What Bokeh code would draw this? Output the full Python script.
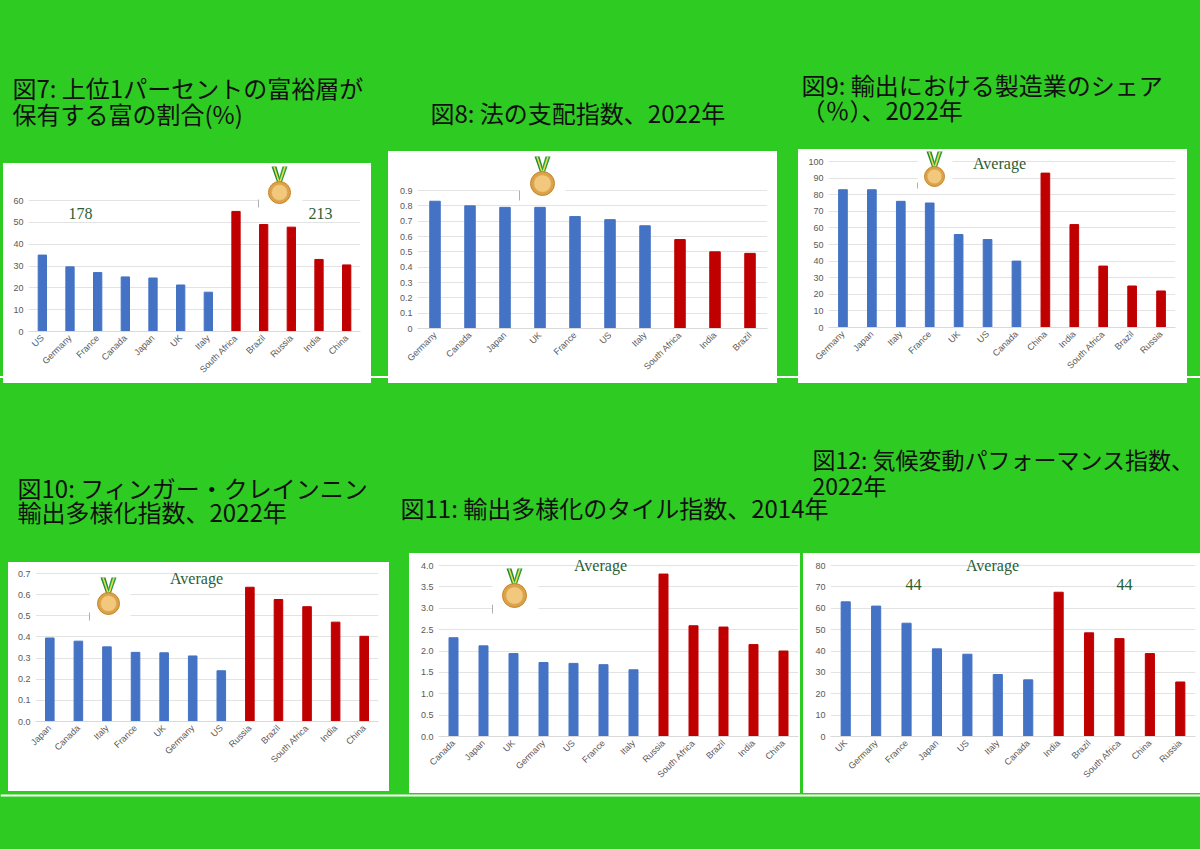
import math
from bokeh.plotting import figure
from bokeh.models import (Range1d, FactorRange, FixedTicker, Spacer, ColumnDataSource,
                          PrintfTickFormatter)
from bokeh.layouts import row, column
from bokeh.core.properties import value
from bokeh.embed import file_html
from bokeh.resources import INLINE

GREEN = "#2ecb23"
BLUE = "#4472c4"
RED = "#c00000"
NOTE = "#2b5e33"

G7 = ["US", "Germany", "France", "Canada", "Japan", "UK", "Italy"]

# ---- data ----
f7_countries = ["US", "Germany", "France", "Canada", "Japan", "UK", "Italy",
                "South Africa", "Brazil", "Russia", "India", "China"]
f7_values = [35, 29.6, 27, 25, 24.5, 21.3, 18, 55, 49, 47.8, 33, 30.5]
f7_ticks = [0, 10, 20, 30, 40, 50, 60]
f7_notes = ["178", "213"]

f8_countries = ["Germany", "Canada", "Japan", "UK", "France", "US", "Italy",
                "South Africa", "India", "Brazil"]
f8_values = [0.83, 0.80, 0.79, 0.79, 0.73, 0.71, 0.67, 0.58, 0.50, 0.49]
f8_ticks = [0, 0.1, 0.2, 0.3, 0.4, 0.5, 0.6, 0.7, 0.8, 0.9]

f9_countries = ["Germany", "Japan", "Italy", "France", "UK", "US", "Canada",
                "China", "India", "South Africa", "Brazil", "Russia"]
f9_values = [83, 83, 76, 75, 56, 53, 40, 93, 62, 37, 25, 22]
f9_ticks = [0, 10, 20, 30, 40, 50, 60, 70, 80, 90, 100]

f10_countries = ["Japan", "Canada", "Italy", "France", "UK", "Germany", "US",
                 "Russia", "Brazil", "South Africa", "India", "China"]
f10_values = [0.395, 0.38, 0.353, 0.327, 0.325, 0.31, 0.24, 0.635, 0.577, 0.543, 0.47, 0.403]
f10_ticks = [0, 0.1, 0.2, 0.3, 0.4, 0.5, 0.6, 0.7]

f11_countries = ["Canada", "Japan", "UK", "Germany", "US", "France", "Italy",
                 "Russia", "South Africa", "Brazil", "India", "China"]
f11_values = [2.31, 2.12, 1.94, 1.73, 1.71, 1.68, 1.56, 3.80, 2.59, 2.56, 2.15, 2.00]
f11_ticks = [0, 0.5, 1.0, 1.5, 2.0, 2.5, 3.0, 3.5, 4.0]

f12_countries = ["UK", "Germany", "France", "Japan", "US", "Italy", "Canada",
                 "India", "Brazil", "South Africa", "China", "Russia"]
f12_values = [63, 61, 53, 41, 38.5, 29, 26.5, 67.5, 48.5, 45.8, 38.8, 25.5]
f12_ticks = [0, 10, 20, 30, 40, 50, 60, 70, 80]
f12_notes = ["44", "44"]

AVG = "Average"

titles_top = ["図7: 上位1パーセントの富裕層が", "保有する富の割合(%)",
              "図8: 法の支配指数、2022年",
              "図9: 輸出における製造業のシェア", "（％）、2022年"]
titles_bottom = ["図10: フィンガー・クレインニン", "輸出多様化指数、2022年",
                 "図11: 輸出多様化のタイル指数、2014年"]
titles_bottom_right = ["図12: 気候変動パフォーマンス指数、", "2022年"]

TITLE_FONT = value("Noto Sans CJK JP")
SERIF = value("Liberation Serif")
PAGE_W = 1200


def strip(y0, y1, line_y=None):
    p = figure(width=PAGE_W, height=y1 - y0, x_range=Range1d(0, PAGE_W), y_range=Range1d(y1, y0),
               x_axis_type=None, y_axis_type=None, toolbar_location=None, output_backend="svg",
               min_border=0, background_fill_color=GREEN, border_fill_color=GREEN,
               outline_line_color=None, styles={"background-color": GREEN})
    p.grid.visible = False
    if line_y is not None:
        p.hspan(y=[line_y], line_color="white", line_width=2)
    return p


def titles(p, texts, xs, ys, size="24px"):
    p.text(x=xs, y=ys, text=texts, text_font=TITLE_FONT, text_font_size=size,
           text_color="#111111", text_align="left", text_baseline="middle")


def gap(w, h, line_off=None):
    if line_off is None:
        return Spacer(width=w, height=h)
    return column(Spacer(width=w, height=line_off),
                  Spacer(width=w, height=2, styles={"background-color": "white"}),
                  Spacer(width=w, height=h - line_off - 2))


class Chart:
    def __init__(self, cats, vals, ticks, fmt, canvas, frame):
        x0, y0, x1, y1 = canvas
        fx0, fx1, yzero, ytick_px = frame
        self.cats = cats
        self.fx0 = fx0
        self.catw = (fx1 - fx0) / len(cats)
        top_val = ticks[-1] * (yzero - y0) / (yzero - ytick_px)
        p = figure(width=x1 - x0, height=y1 - y0, x_range=FactorRange(factors=cats),
                   y_range=Range1d(0, top_val), toolbar_location=None, output_backend="svg",
                   min_border_left=fx0 - x0, min_border_right=x1 - fx1, min_border_top=0,
                   min_border_bottom=y1 - yzero, background_fill_color="white",
                   border_fill_color="white", outline_line_color=None,
                   styles={"background-color": "white"})
        p.extra_y_ranges = {"py": Range1d(yzero, y0)}
        p.yaxis.ticker = FixedTicker(ticks=ticks)
        if fmt:
            p.yaxis.formatter = PrintfTickFormatter(format=fmt)
        for ax in (p.xaxis, p.yaxis):
            ax.major_tick_line_color = None
            ax.minor_tick_line_color = None
            ax.major_tick_out = 0
            ax.major_tick_in = 0
            ax.major_label_text_font = "Liberation Sans"
            ax.major_label_text_font_size = "9px"
            ax.major_label_text_color = "#595959"
            ax.major_label_standoff = 5
        p.yaxis.axis_line_color = None
        p.xaxis.axis_line_color = "#d9d9d9"
        p.xaxis.major_label_orientation = math.pi / 4
        p.xgrid.grid_line_color = None
        p.ygrid.grid_line_color = "#e3e3e3"
        self.p = p

    def X(self, pxs):
        out = []
        n = len(self.cats)
        for px in pxs:
            u = (px - self.fx0) / self.catw
            i = max(0, min(n - 1, int(math.floor(u))))
            out.append((self.cats[i], u - i - 0.5))
        return out

    def bars(self, vals):
        colors = [BLUE if c in G7 else RED for c in self.cats]
        src = ColumnDataSource(dict(x=self.cats, top=vals, color=colors))
        self.p.vbar(x="x", top="top", width=0.3, fill_color="color", line_color="color", source=src)

    def cover(self, l, r, t, b, tick_top, tick_bot):
        lx, rx = self.X([l, r])
        self.p.quad(left=[lx], right=[rx], top=[t], bottom=[b], fill_color="white",
                    line_color=None, y_range_name="py")
        self.p.segment(x0=[lx], y0=[tick_top], x1=[lx], y1=[tick_bot], line_color="#b0b0b0",
                       line_width=1, y_range_name="py")

    def medal(self, cx, cy, r):
        p = self.p
        top = cy - r - 15
        bot = cy - r + 2
        p.patch(x=self.X([cx - 8, cx - 3, cx + 2, cx - 2]), y=[top, top, bot, bot],
                fill_color="#1d8a3c", line_color=None, y_range_name="py")
        p.patch(x=self.X([cx + 8, cx + 3, cx - 2, cx + 2]), y=[top, top, bot, bot],
                fill_color="#25a043", line_color=None, y_range_name="py")
        p.segment(x0=self.X([cx - 5.5, cx + 5.5]), y0=[top, top], x1=self.X([cx, cx]),
                  y1=[bot, bot], line_color="#e8dc4a", line_width=1.6, y_range_name="py")
        p.scatter(x=self.X([cx]), y=[cy], size=2 * r, marker="circle", fill_color="#dca24a",
                  line_color="#c4852c", line_width=1, y_range_name="py")
        p.scatter(x=self.X([cx]), y=[cy], size=1.45 * r, marker="circle", fill_color="#f1c87c",
                  line_color="#d9a653", line_width=0.6, y_range_name="py")

    def note(self, xs, ys, texts, size="16px"):
        self.p.text(x=self.X(xs), y=ys, text=texts, text_font=SERIF, text_font_size=size,
                    text_color=NOTE, text_align="center", text_baseline="middle",
                    y_range_name="py")


# ---- row 1 ----
top_strip = strip(0, 149)
titles(top_strip, titles_top, [12, 12, 430, 801, 801], [87, 113, 112, 84, 109])

cA = Chart(f7_countries, f7_values, f7_ticks, None, (3, 163, 371, 383), (28, 360, 331, 200))
cA.cover(258, 302, 163, 207, 199, 207)
cA.bars(f7_values)
cA.medal(279, 192, 11)
cA.note([80, 320], [213, 213], f7_notes)

cB = Chart(f8_countries, f8_values, f8_ticks, None, (388, 151, 777, 383), (417, 767, 328, 190))
cB.cover(519, 565, 151, 200, 190, 200)
cB.bars(f8_values)
cB.medal(542, 183, 12)

cC = Chart(f9_countries, f9_values, f9_ticks, None, (798, 149, 1187, 383), (828, 1175, 327, 161))
cC.cover(917, 952, 150, 188, 182, 188)
cC.bars(f9_values)
cC.medal(934, 176, 10)
cC.note([999], [163], [AVG])

LINE_OFF = 376 - 149
row1 = row(
    gap(3, 234, LINE_OFF),
    column(Spacer(width=368, height=14), cA.p),
    gap(17, 234, LINE_OFF),
    column(Spacer(width=389, height=2), cB.p),
    gap(21, 234, LINE_OFF),
    cC.p,
    gap(13, 234, LINE_OFF),
)

# ---- row 2 ----
mid_strip = strip(383, 553)
titles(mid_strip, titles_bottom, [17, 17, 400], [487, 511, 507])
titles(mid_strip, titles_bottom_right, [812, 812], [458, 484], size="23px")

cD = Chart(f10_countries, f10_values, f10_ticks, "%.1f", (8, 562, 389, 791), (35, 378, 721, 573))
cD.cover(89, 130, 576, 620, 612, 620)
cD.bars(f10_values)
cD.medal(108, 603, 11)
cD.note([196], [578], [AVG])

cE = Chart(f11_countries, f11_values, f11_ticks, "%.1f", (409, 553, 800, 793), (438, 798, 736, 565))
cE.cover(492, 538, 567, 613, 604, 613)
cE.bars(f11_values)
cE.medal(514, 595, 12)
cE.note([600], [565], [AVG])

cF = Chart(f12_countries, f12_values, f12_ticks, None, (803, 553, 1200, 793), (830, 1195, 736, 565))
cF.bars(f12_values)
cF.note([992], [565], [AVG])
cF.note([913, 1124], [584, 584], f12_notes)

row2 = row(
    gap(8, 240),
    column(Spacer(width=381, height=9), cD.p),
    gap(20, 240),
    cE.p,
    gap(3, 240),
    cF.p,
)

bottom_strip = strip(793, 849, line_y=795)

layout = column(top_strip, row1, mid_strip, row2, bottom_strip,
                styles={"background-color": GREEN})

html = file_html(layout, INLINE)
html = html.replace("</head>", "<style>html,body{background-color:%s;}</style></head>" % GREEN, 1)
open("out.html", "w").write(html)
